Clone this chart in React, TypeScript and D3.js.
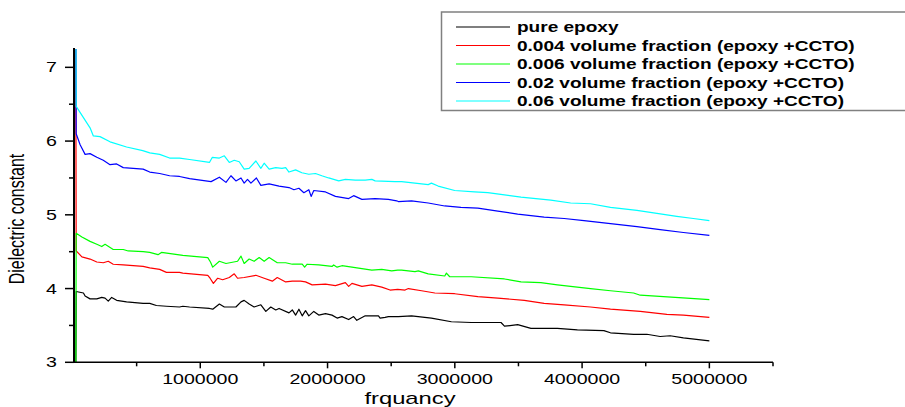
import React from "react";
import * as d3 from "d3";

type Pt = [number, number];

const pureEpoxy: Pt[] = [
  [20000, 2.0], [25000, 3.96], [82000, 3.94], [95000, 3.9], [134000, 3.86], [187000, 3.86],
  [226000, 3.88], [252000, 3.87], [277000, 3.83], [304000, 3.88], [343000, 3.84], [421000, 3.82],
  [551000, 3.8], [603000, 3.8], [655000, 3.77], [734000, 3.76], [837000, 3.75], [863000, 3.76],
  [916000, 3.75], [1072000, 3.73], [1098000, 3.72], [1150000, 3.79], [1189000, 3.75], [1280000, 3.75],
  [1320000, 3.82], [1345000, 3.84], [1384000, 3.79], [1423000, 3.75], [1476000, 3.78], [1515000, 3.69],
  [1554000, 3.75], [1593000, 3.71], [1619000, 3.73], [1697000, 3.67], [1723000, 3.71], [1749000, 3.64],
  [1775000, 3.72], [1801000, 3.63], [1827000, 3.7], [1853000, 3.63], [1892000, 3.69], [1931000, 3.64],
  [1984000, 3.66], [2035000, 3.64], [2075000, 3.6], [2113000, 3.62], [2166000, 3.58], [2205000, 3.62],
  [2230000, 3.57], [2296000, 3.63], [2400000, 3.63], [2413000, 3.6], [2452000, 3.61], [2478000, 3.62],
  [2556000, 3.62], [2660000, 3.63], [2816000, 3.6], [2973000, 3.55], [3129000, 3.54], [3363000, 3.54],
  [3390000, 3.49], [3494000, 3.51], [3598000, 3.46], [3806000, 3.46], [3963000, 3.44], [4171000, 3.43],
  [4223000, 3.4], [4405000, 3.38], [4509000, 3.38], [4613000, 3.35], [4692000, 3.36], [4796000, 3.33],
  [5000000, 3.29],
];

const frac004: Pt[] = [
  [20000, 9], [25000, 4.51], [70000, 4.43], [134000, 4.4], [187000, 4.36], [238000, 4.35],
  [277000, 4.37], [316000, 4.33], [395000, 4.32], [551000, 4.3], [603000, 4.28], [681000, 4.26],
  [734000, 4.22], [837000, 4.22], [863000, 4.21], [1059000, 4.18], [1077000, 4.14], [1103000, 4.07],
  [1137000, 4.14], [1176000, 4.12], [1228000, 4.15], [1267000, 4.2], [1293000, 4.14], [1345000, 4.15],
  [1437000, 4.18], [1502000, 4.14], [1566000, 4.1], [1605000, 4.15], [1671000, 4.09], [1723000, 4.1],
  [1788000, 4.1], [1827000, 4.09], [1879000, 4.05], [1984000, 4.06], [2062000, 4.04], [2140000, 4.08],
  [2166000, 4.03], [2192000, 4.07], [2270000, 4.03], [2348000, 4.05], [2426000, 4.02], [2491000, 3.98],
  [2551000, 3.99], [2609000, 3.98], [2635000, 4.0], [2739000, 3.97], [2843000, 3.94], [2999000, 3.93],
  [3181000, 3.89], [3338000, 3.87], [3546000, 3.84], [3702000, 3.8], [3859000, 3.78], [4066000, 3.75],
  [4223000, 3.72], [4457000, 3.69], [4666000, 3.65], [4796000, 3.64], [5000000, 3.61],
];

const frac006: Pt[] = [
  [20000, 1], [25000, 4.75], [70000, 4.7], [134000, 4.64], [187000, 4.6], [226000, 4.57],
  [252000, 4.6], [316000, 4.53], [395000, 4.53], [434000, 4.51], [551000, 4.5], [603000, 4.49],
  [668000, 4.46], [695000, 4.49], [863000, 4.45], [1059000, 4.42], [1080000, 4.36], [1098000, 4.29],
  [1150000, 4.37], [1202000, 4.34], [1293000, 4.37], [1320000, 4.44], [1345000, 4.34], [1384000, 4.4],
  [1423000, 4.37], [1463000, 4.42], [1502000, 4.37], [1541000, 4.42], [1605000, 4.35], [1671000, 4.35],
  [1723000, 4.33], [1801000, 4.33], [1820000, 4.29], [1840000, 4.33], [1931000, 4.32], [2035000, 4.3],
  [2048000, 4.32], [2075000, 4.29], [2113000, 4.31], [2270000, 4.27], [2348000, 4.25], [2426000, 4.26],
  [2504000, 4.24], [2551000, 4.25], [2582000, 4.25], [2687000, 4.23], [2713000, 4.24], [2791000, 4.2],
  [2921000, 4.17], [2934000, 4.21], [2960000, 4.16], [3129000, 4.16], [3390000, 4.13], [3520000, 4.09],
  [3676000, 4.08], [3806000, 4.05], [3910000, 4.03], [4066000, 4.0], [4223000, 3.97], [4405000, 3.94],
  [4457000, 3.91], [4640000, 3.89], [4822000, 3.87], [5000000, 3.85],
];

const frac02: Pt[] = [
  [20000, 9], [25000, 6.1], [56000, 5.95], [95000, 5.82], [134000, 5.83], [187000, 5.78],
  [238000, 5.74], [291000, 5.68], [343000, 5.69], [395000, 5.64], [551000, 5.62], [603000, 5.58],
  [681000, 5.56], [759000, 5.53], [837000, 5.52], [916000, 5.49], [1085000, 5.45], [1150000, 5.51],
  [1202000, 5.44], [1241000, 5.53], [1280000, 5.46], [1320000, 5.5], [1345000, 5.43], [1371000, 5.48],
  [1398000, 5.43], [1441000, 5.5], [1476000, 5.4], [1541000, 5.42], [1619000, 5.39], [1697000, 5.37],
  [1736000, 5.34], [1775000, 5.36], [1814000, 5.3], [1853000, 5.34], [1871000, 5.25], [1892000, 5.33],
  [1984000, 5.31], [2062000, 5.25], [2166000, 5.22], [2205000, 5.26], [2270000, 5.21], [2374000, 5.22],
  [2478000, 5.21], [2543000, 5.19], [2556000, 5.18], [2660000, 5.19], [2791000, 5.16], [2921000, 5.12],
  [3048000, 5.1], [3181000, 5.09], [3338000, 5.05], [3494000, 5.01], [3702000, 4.97], [3859000, 4.95],
  [4015000, 4.92], [4223000, 4.88], [4431000, 4.84], [4613000, 4.8], [4796000, 4.76], [5000000, 4.72],
];

const frac06: Pt[] = [
  [20000, 9], [25000, 6.47], [134000, 6.18], [160000, 6.07], [212000, 6.06], [291000, 5.99],
  [421000, 5.92], [548000, 5.87], [603000, 5.84], [681000, 5.82], [759000, 5.77], [837000, 5.77],
  [916000, 5.75], [1072000, 5.71], [1095000, 5.78], [1150000, 5.77], [1189000, 5.8], [1228000, 5.71],
  [1267000, 5.74], [1306000, 5.72], [1345000, 5.62], [1384000, 5.63], [1437000, 5.73], [1476000, 5.63],
  [1502000, 5.7], [1541000, 5.62], [1593000, 5.64], [1642000, 5.63], [1671000, 5.64], [1697000, 5.58],
  [1749000, 5.61], [1798000, 5.57], [1853000, 5.55], [1905000, 5.56], [1955000, 5.53], [2009000, 5.5],
  [2088000, 5.46], [2140000, 5.48], [2218000, 5.47], [2296000, 5.47], [2348000, 5.48], [2374000, 5.46],
  [2530000, 5.45], [2582000, 5.45], [2791000, 5.41], [2816000, 5.43], [2869000, 5.39], [2999000, 5.33],
  [3155000, 5.31], [3259000, 5.3], [3390000, 5.27], [3520000, 5.24], [3754000, 5.2], [3910000, 5.16],
  [4066000, 5.15], [4223000, 5.1], [4431000, 5.06], [4588000, 5.02], [4744000, 4.98], [4874000, 4.95],
  [5000000, 4.92],
];

const seriesNames = [
  "pure epoxy",
  "0.004 volume fraction (epoxy +CCTO)",
  "0.006 volume fraction (epoxy +CCTO)",
  "0.02 volume fraction (epoxy +CCTO)",
  "0.06 volume fraction (epoxy +CCTO)",
];
const seriesData = [pureEpoxy, frac004, frac006, frac02, frac06];
const seriesColors = ["#000000", "#ff0000", "#00ff00", "#0000ff", "#00ffff"];

const yMajorTicks = [3, 4, 5, 6, 7];
const yMinorTicks = [3.5, 4.5, 5.5, 6.5];
const xMajorTicks = [1000000, 2000000, 3000000, 4000000, 5000000];
const xMinorTicks = [500000, 1500000, 2500000, 3500000, 4500000, 5500000];

const W = 905;
const H = 407;
const FONT = "'Liberation Sans', Arial, sans-serif";
const SX = 1.4;

export default function App() {
  const x = d3.scaleLinear().domain([0, 5500000]).range([73, 773]);
  const y = d3.scaleLinear().domain([3, 7.25]).range([362.3, 48.9]);
  const line = d3
    .line<Pt>()
    .x((d) => x(d[0]))
    .y((d) => y(d[1]));

  const x0 = x.range()[0];
  const y0 = y.range()[0];
  const yTop = y.range()[1];
  const xEnd = x.range()[1];

  const legendRows = [27, 45.5, 64, 82.5, 101];

  return (
    <svg
      width={W}
      height={H}
      style={{ position: "absolute", left: 0, top: 0, background: "#fff" }}
    >
      <defs>
        <clipPath id="plotClip">
          <rect x={x0} y={yTop} width={xEnd - x0} height={y0 - yTop} />
        </clipPath>
      </defs>
      <rect x={0} y={0} width={W} height={H} fill="#fff" />

      <g clipPath="url(#plotClip)">
        {seriesData.map((d, i) => (
          <path
            key={i}
            d={line(d) || ""}
            fill="none"
            stroke={seriesColors[i]}
            strokeWidth={1.2}
            strokeLinejoin="round"
          />
        ))}
      </g>

      {/* Y axis */}
      <line x1={74} x2={74} y1={yTop - 1} y2={y0 + 0.5} stroke="#000" strokeWidth={2} />
      {yMajorTicks.map((t) => (
        <g key={"ym" + t}>
          <line x1={65} x2={74} y1={y(t)} y2={y(t)} stroke="#000" strokeWidth={1.5} />
          <text
            transform={`translate(57,${y(t) + 5}) scale(${SX},1)`}
            textAnchor="end"
            fontFamily={FONT}
            fontSize={14}
            fill="#000"
          >
            {t}
          </text>
        </g>
      ))}
      {yMinorTicks.map((t) => (
        <line key={"yn" + t} x1={69} x2={74} y1={y(t)} y2={y(t)} stroke="#000" strokeWidth={1.5} />
      ))}

      {/* X axis */}
      <line x1={73} x2={xEnd} y1={y0} y2={y0} stroke="#000" strokeWidth={1.5} />
      {xMajorTicks.map((t) => (
        <g key={"xm" + t}>
          <line x1={x(t)} x2={x(t)} y1={y0} y2={y0 + 6} stroke="#000" strokeWidth={1.5} />
          <text
            transform={`translate(${x(t)},${y0 + 22}) scale(${SX},1)`}
            textAnchor="middle"
            fontFamily={FONT}
            fontSize={14}
            fill="#000"
          >
            {t}
          </text>
        </g>
      ))}
      {xMinorTicks.map((t) => (
        <line key={"xn" + t} x1={x(t)} x2={x(t)} y1={y0} y2={y0 + 4} stroke="#000" strokeWidth={1.5} />
      ))}

      {/* axis titles */}
      <text
        transform={`translate(410,404) scale(${SX},1)`}
        textAnchor="middle"
        fontFamily={FONT}
        fontSize={17}
        fill="#000"
      >
        frquancy
      </text>
      <text
        transform={`translate(24,219) rotate(-90) scale(1,${SX})`}
        textAnchor="middle"
        fontFamily={FONT}
        fontSize={16}
        fill="#000"
      >
        Dielectric constant
      </text>

      {/* legend */}
      <rect x={441.5} y={12} width={480} height={98.5} fill="#fff" stroke="#808080" strokeWidth={1.5} />
      {seriesNames.map((name, i) => (
        <g key={"lg" + i}>
          <line
            x1={456}
            x2={510}
            y1={legendRows[i]}
            y2={legendRows[i]}
            stroke={seriesColors[i]}
            strokeWidth={1.2}
          />
          <text
            transform={`translate(517,${legendRows[i] + 5}) scale(${1.36},1)`}
            fontFamily={FONT}
            fontSize={14}
            fontWeight="bold"
            fill="#000"
          >
            {name}
          </text>
        </g>
      ))}
    </svg>
  );
}
